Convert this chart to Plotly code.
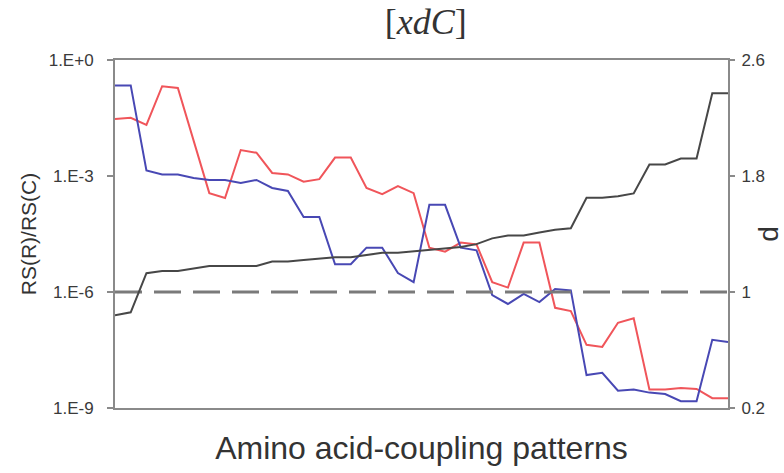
import plotly.graph_objects as go

patterns = list(range(40))

rs_red = [3.0e-2, 3.2e-2, 2.1e-2, 2.1e-1, 1.9e-1, 8.5e-3, 3.6e-4, 2.7e-4, 4.7e-3, 4.0e-3,
          1.2e-3, 1.1e-3, 7.1e-4, 8.3e-4, 3.0e-3, 3.0e-3, 4.9e-4, 3.4e-4, 5.5e-4, 3.6e-4,
          1.4e-5, 1.1e-5, 1.9e-5, 1.7e-5, 1.8e-6, 1.3e-6, 1.9e-5, 1.9e-5, 3.9e-7, 3.2e-7,
          4.3e-8, 3.8e-8, 1.6e-7, 2.1e-7, 3.0e-9, 3.0e-9, 3.3e-9, 3.1e-9, 1.8e-9, 1.8e-9]

rs_blue = [2.2e-1, 2.2e-1, 1.4e-3, 1.1e-3, 1.1e-3, 8.9e-4, 7.9e-4, 7.9e-4, 6.6e-4, 7.9e-4,
           4.9e-4, 4.1e-4, 8.7e-5, 8.7e-5, 5.2e-6, 5.2e-6, 1.4e-5, 1.4e-5, 3.1e-6, 1.8e-6,
           1.8e-4, 1.8e-4, 1.4e-5, 1.2e-5, 8.3e-7, 4.9e-7, 8.9e-7, 5.5e-7, 1.2e-6, 1.1e-6,
           7.1e-9, 8.1e-9, 2.8e-9, 3.0e-9, 2.5e-9, 2.3e-9, 1.5e-9, 1.5e-9, 5.8e-8, 5.1e-8]

d_values = [0.84, 0.86, 1.13, 1.145, 1.145, 1.16, 1.18, 1.18, 1.18, 1.18,
            1.21, 1.21, 1.22, 1.23, 1.24, 1.24, 1.255, 1.27, 1.27, 1.28,
            1.29, 1.30, 1.31, 1.33, 1.37, 1.39, 1.39, 1.41, 1.43, 1.44,
            1.65, 1.65, 1.66, 1.68, 1.88, 1.88, 1.92, 1.92, 2.37, 2.37]

d_ref = 1.0

left_ticks = [1, 1e-3, 1e-6, 1e-9]
left_text = ["1.E+0", "1.E-3", "1.E-6", "1.E-9"]
right_ticks = [0.2, 1, 1.8, 2.6]
right_text = ["0.2", "1", "1.8", "2.6"]

fig = go.Figure()
fig.add_trace(go.Scatter(x=[patterns[0], patterns[-1]], y=[d_ref, d_ref], yaxis="y2",
                         mode="lines", line=dict(color="#7a7a7a", width=3, dash="27px,12px"),
                         showlegend=False, hoverinfo="skip"))
fig.add_trace(go.Scatter(x=patterns, y=d_values, yaxis="y2", mode="lines",
                         line=dict(color="#474747", width=2), showlegend=False))
fig.add_trace(go.Scatter(x=patterns, y=rs_red, mode="lines",
                         line=dict(color="#f0555a", width=2), showlegend=False))
fig.add_trace(go.Scatter(x=patterns, y=rs_blue, mode="lines",
                         line=dict(color="#4848b4", width=2), showlegend=False))

axis_font = dict(family="Liberation Sans, Arial", size=17, color="#3a3a3a")

fig.update_layout(
    width=784, height=473,
    margin=dict(l=115, r=56, t=60, b=65),
    paper_bgcolor="white", plot_bgcolor="white",
    title=dict(text="[<i>xdC</i>]", x=0.543, xanchor="center", y=0.955, yanchor="middle",
               font=dict(family="Liberation Serif, Times New Roman", size=36, color="#333")),
    xaxis=dict(range=[patterns[0], patterns[-1]], showticklabels=False, ticks="",
               showgrid=False, zeroline=False, showline=True, mirror=True,
               linecolor="#8a8a8a", linewidth=2, automargin=False,
               title=dict(text="Amino acid-coupling patterns", standoff=28,
                          font=dict(family="Liberation Sans, Arial", size=32, color="#333"))),
    yaxis=dict(type="log", range=[-9, 0], tickvals=left_ticks, ticktext=left_text,
               ticks="outside", ticklen=6, tickcolor="#8a8a8a", tickwidth=2,
               ticklabelstandoff=10, automargin=False,
               showgrid=False, zeroline=False, showline=True, linecolor="#8a8a8a", linewidth=2,
               tickfont=axis_font,
               title=dict(text="RS(R)/RS(C)", standoff=6,
                          font=dict(family="Liberation Sans, Arial", size=21, color="#333"))),
    yaxis2=dict(overlaying="y", side="right", range=[0.2, 2.6], tickvals=right_ticks,
                ticktext=right_text, ticks="outside", ticklen=5, tickcolor="#8a8a8a", tickwidth=2,
                ticklabelstandoff=3, automargin=False,
                showgrid=False, zeroline=False, showline=True, linecolor="#8a8a8a", linewidth=2,
                tickfont=axis_font,
                title=dict(text="d", standoff=0,
                           font=dict(family="Liberation Sans, Arial", size=28, color="#333"))),
)

fig.write_html("out.html")
